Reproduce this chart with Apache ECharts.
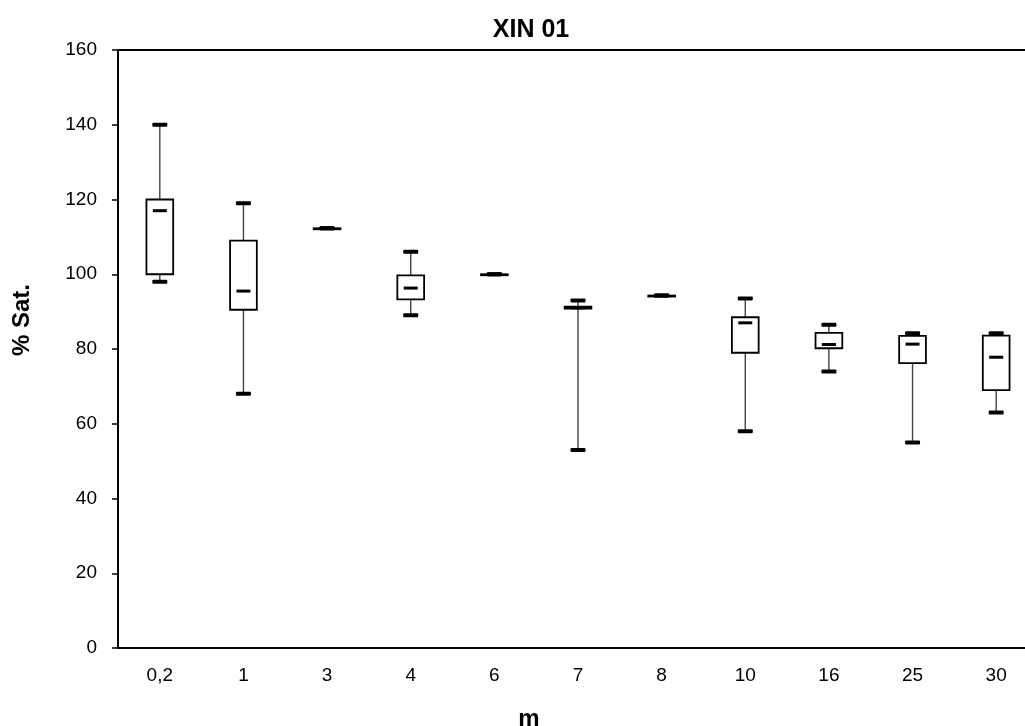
<!DOCTYPE html>
<html>
<head>
<meta charset="utf-8">
<script src="https://cdn.jsdelivr.net/npm/echarts@6/dist/echarts.min.js"></script>
<style>
  html, body { margin: 0; padding: 0; background: #fff; }
  #chart { width: 1025px; height: 726px; }
</style>
</head>
<body>
<div id="chart"></div>
<script>
// depth categories (m)
const categories = ['0,2', '1', '3', '4', '6', '7', '8', '10', '16', '25', '30']
const mins    = [98,  68,   112.3, 89,   100, 53,   94.3, 58,   74,   55,   63]
const q1s     = [100, 90.5, 112.3, 93.3, 100, 90.8, 94.3, 79,   80.2, 76.2, 69]
const medians = [117, 95.5, 112.3, 96.3, 100, 91,   94.3, 87,   81.2, 81.3, 77.8]
const q3s     = [120, 109,  112.3, 99.7, 100, 91.3, 94.3, 88.5, 84.3, 83.5, 83.6]
const maxs    = [140, 119,  112.3, 106,  100, 93,   94.3, 93.5, 86.5, 84.2, 84.2]
const yTicks  = [0, 20, 40, 60, 80, 100, 120, 140, 160]

const boxData = categories.map((c, i) => [i, mins[i], q1s[i], medians[i], q3s[i], maxs[i]])

const font = 'Liberation Sans, Arial'

function renderBox(params, api) {
  const i = api.value(0)
  const pMin = api.coord([i, api.value(1)])
  const pQ1 = api.coord([i, api.value(2)])
  const pMed = api.coord([i, api.value(3)])
  const pQ3 = api.coord([i, api.value(4)])
  const pMax = api.coord([i, api.value(5)])
  const band = api.size([1, 0])[0]
  const x = pMed[0]
  const boxW = band * 0.32
  const capW = 15
  const capH = 4
  const medW = 14
  const medH = 3
  return {
    type: 'group',
    children: [
      { type: 'line', shape: { x1: x, y1: pMin[1], x2: x, y2: pMax[1] },
        style: { stroke: '#444', lineWidth: 1.4 } },
      { type: 'rect', shape: { x: x - boxW / 2, y: pQ3[1], width: boxW, height: Math.max(pQ1[1] - pQ3[1], 1) },
        style: { fill: '#fff', stroke: '#000', lineWidth: 1.8 } },
      { type: 'rect', shape: { x: x - medW / 2, y: pMed[1] - medH / 2, width: medW, height: medH },
        style: { fill: '#000' } },
      { type: 'rect', shape: { x: x - capW / 2, y: pMax[1] - capH / 2, width: capW, height: capH, r: 1 },
        style: { fill: '#000' } },
      { type: 'rect', shape: { x: x - capW / 2, y: pMin[1] - capH / 2, width: capW, height: capH, r: 1 },
        style: { fill: '#000' } }
    ]
  }
}

const chart = echarts.init(document.getElementById('chart'))

chart.setOption({
  animation: false,
  backgroundColor: '#fff',
  title: [
    {
      text: 'XIN 01',
      left: 526,
      top: 13,
      textAlign: 'center',
      textStyle: { fontFamily: font, fontWeight: 'bold', fontSize: 25, color: '#000' }
    },
    {
      text: 'm',
      left: 524,
      top: 702,
      textAlign: 'center',
      textStyle: { fontFamily: font, fontWeight: 'bold', fontSize: 24, color: '#000' }
    }
  ],
  graphic: [
    {
      type: 'text',
      x: 22,
      y: 320,
      rotation: Math.PI / 2,
      style: {
        text: '% Sat.',
        fontFamily: font,
        fontWeight: 'bold',
        fontSize: 24,
        fill: '#000',
        align: 'center',
        verticalAlign: 'middle'
      }
    }
  ],
  grid: { left: 118, width: 920, top: 50, height: 598, outerBoundsMode: 'none' },
  xAxis: {
    type: 'category',
    data: categories,
    boundaryGap: true,
    axisLine: { lineStyle: { color: '#000', width: 2 } },
    axisTick: { length: 6, lineStyle: { color: '#000', width: 1.5 } },
    axisLabel: { fontFamily: font, fontSize: 19, color: '#000', margin: 18 },
    splitLine: { show: false }
  },
  yAxis: {
    type: 'value',
    min: yTicks[0],
    max: yTicks[yTicks.length - 1],
    interval: 20,
    axisLine: { show: true, lineStyle: { color: '#000', width: 2 } },
    axisTick: { show: true, length: 6, lineStyle: { color: '#000', width: 1.5 } },
    axisLabel: { fontFamily: font, fontSize: 19, color: '#000', margin: 21 },
    splitLine: { show: false }
  },
  series: [
    {
      type: 'custom',
      renderItem: renderBox,
      encode: { x: 0, y: [1, 2, 3, 4, 5] },
      data: boxData,
      z: 5
    },
    {
      // top frame line at 160
      type: 'line',
      data: [],
      markLine: {
        silent: true,
        symbol: 'none',
        label: { show: false },
        lineStyle: { color: '#000', width: 2, type: 'solid' },
        data: [{ yAxis: 160 }]
      }
    }
  ]
})
</script>
</body>
</html>
